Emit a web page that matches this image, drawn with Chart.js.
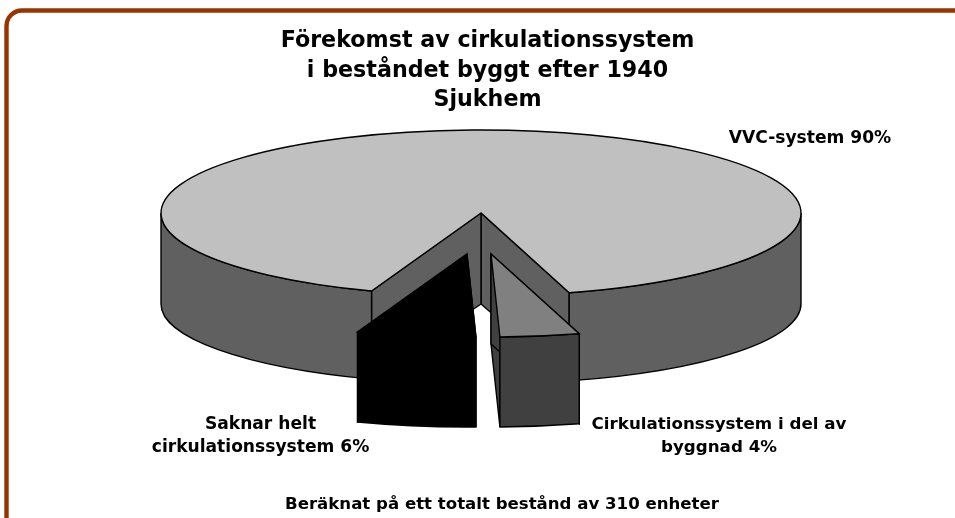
<!DOCTYPE html>
<html><head><meta charset="utf-8">
<style>html,body{margin:0;padding:0;background:#fff;overflow:hidden}canvas{display:block}</style>
<script src="https://cdn.jsdelivr.net/npm/chart.js@4"></script>
</head><body><canvas id="c" width="955" height="518"></canvas>
<script>
const titleLines = ['Förekomst av cirkulationssystem', 'i beståndet byggt efter 1940', 'Sjukhem'];
const footnote = 'Beräknat på ett totalt bestånd av 310 enheter';
const categoryLines = [['VVC-system'], ['Cirkulationssystem i del av', 'byggnad'], ['Saknar helt', 'cirkulationssystem']];
const shares = [90, 4, 6];
const topColors = ['#C0C0C0', '#808080', '#000000'];
const sideColors = ['#606060', '#404040', '#000000'];

const FONT = '"DejaVu Sans", Verdana, sans-serif';
const pie3d = {cx: 481, cy: 213, rx: 320, ry: 83};
const explode = [[0, 0], [10, 41], [-14, 41]];
const wallDepth = [91, 90, 90];
const wallRy = [80, 83, 83];
const labelAnchors = [[810, 138.5], [719, 425], [260.5, 425]];
const labelSizes = [17.1, 16.7, 17.1];
const LINE = 1.4;

const frame = {
  id: 'frame',
  beforeDraw(chart) {
    const c = chart.ctx;
    c.save();
    c.strokeStyle = '#993300'; c.lineWidth = 4.4;
    c.beginPath();
    c.moveTo(6.5, 530);
    c.lineTo(6.5, 26);
    c.arcTo(6.5, 10.5, 22, 10.5, 15.5);
    c.lineTo(965, 10.5);
    c.stroke();
    c.restore();
  }
};

const extruded = {
  id: 'extruded',
  beforeDatasetDraw(chart, args) {
    const c = chart.ctx, P = pie3d, TAU = Math.PI * 2;
    chart.getDatasetMeta(args.index).data.forEach((el, i) => {
      const {startAngle: a0, endAngle: a1, outerRadius: R, x: ex, y: ey} = el.getProps(['startAngle', 'endAngle', 'outerRadius', 'x', 'y'], true);
      const cx = P.cx + explode[i][0], cy = P.cy + explode[i][1];
      const by = cy + wallDepth[i], bry = wallRy[i];
      c.save();
      c.lineWidth = LINE; c.strokeStyle = '#000'; c.lineJoin = 'miter'; c.fillStyle = sideColors[i];
      // radial walls
      [a1, a0].forEach(a => {
        const co = Math.cos(a), si = Math.sin(a);
        c.beginPath();
        c.moveTo(cx, cy); c.lineTo(cx + P.rx * co, cy + P.ry * si);
        c.lineTo(cx + P.rx * co, by + bry * si); c.lineTo(cx, by);
        c.closePath(); c.fill(); c.stroke();
      });
      // outer wall: the parts of the rim on the near side
      for (let k = -1; k < 3; k++) {
        const s = Math.max(a0, k * TAU), e = Math.min(a1, k * TAU + Math.PI);
        if (e <= s) continue;
        c.beginPath();
        c.ellipse(cx, cy, P.rx, P.ry, 0, s, e);
        c.ellipse(cx, by, P.rx, bry, 0, e, s, true);
        c.closePath(); c.fill(); c.stroke();
      }
      // top face, filled by the library's own arc element
      c.save();
      c.translate(cx, cy);
      c.scale(P.rx / R, P.ry / R);
      c.translate(-ex, -ey);
      el.draw(c, chart.chartArea);
      c.restore();
      c.beginPath();
      c.moveTo(cx, cy);
      c.ellipse(cx, cy, P.rx, P.ry, 0, a0, a1);
      c.closePath(); c.stroke();
      c.restore();
    });
    return false;
  },
  afterDraw(chart) {
    const c = chart.ctx;
    c.save();
    c.fillStyle = '#000'; c.textAlign = 'center'; c.textBaseline = 'middle';
    categoryLines.forEach((lines, i) => {
      c.font = 'bold ' + labelSizes[i] + 'px ' + FONT;
      lines.forEach((t, j) => {
        const txt = j === lines.length - 1 ? t + ' ' + shares[i] + '%' : t;
        c.fillText(txt, labelAnchors[i][0], labelAnchors[i][1] + j * 23);
      });
    });
    c.font = 'bold 16.6px ' + FONT;
    c.fillText(footnote, 502, 505);
    c.restore();
  }
};

new Chart(document.getElementById('c'), {
  type: 'pie',
  data: {
    labels: categoryLines.map(l => l.join(' ')),
    datasets: [{data: shares, backgroundColor: topColors, borderWidth: 0}]
  },
  options: {
    responsive: false, animation: false,
    rotation: 200,
    layout: {padding: {left: 20, top: 27}},
    plugins: {
      legend: {display: false}, tooltip: {enabled: false},
      title: {display: true, text: titleLines, color: '#000', align: 'center',
        font: {family: FONT, size: 22.2, weight: 'bold', lineHeight: 1.32}, padding: 0}
    }
  },
  plugins: [frame, extruded]
});
</script></body></html>
